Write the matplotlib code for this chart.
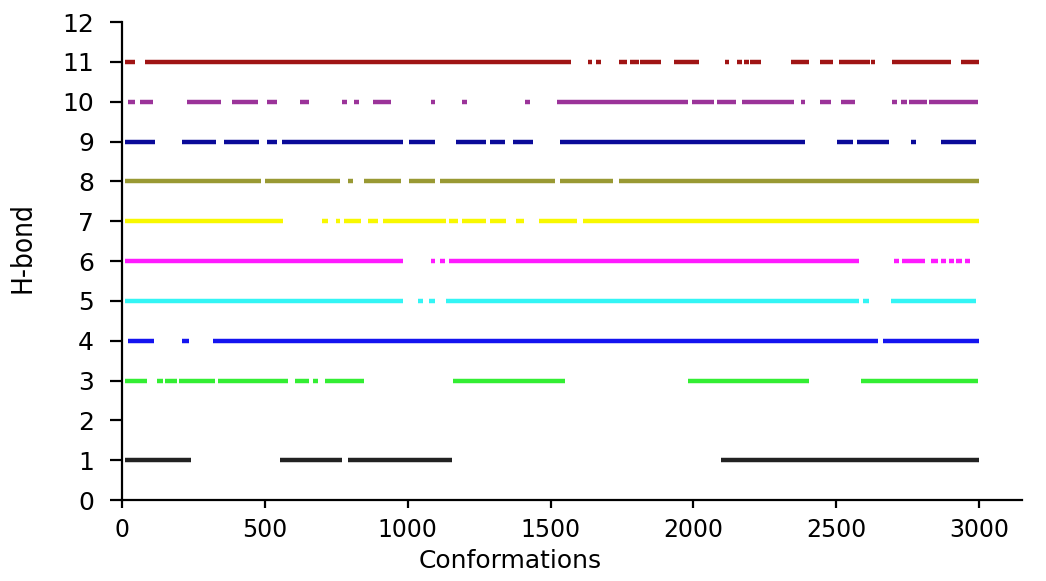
import matplotlib
matplotlib.use("Agg")
import matplotlib.pyplot as plt

# H-bond occupancy: (start, end) conformation ranges where each bond is present
hb1 = [(10, 240), (552, 771), (791, 1155), (2098, 3000)]
hb3 = [(10, 86), (124, 142), (150, 191), (199, 325), (336, 581), (604, 653),
       (669, 686), (711, 847), (1160, 1550), (1981, 2406), (2587, 2995)]
hb4 = [(22, 113), (209, 235), (319, 2646), (2663, 3000)]
hb5 = [(10, 985), (1035, 1052), (1076, 1096), (1134, 2579), (2592, 2614),
       (2691, 2990)]
hb6 = [(10, 985), (1080, 1094), (1113, 1131), (1146, 2579), (2701, 2718),
       (2730, 2811), (2832, 2855), (2867, 2884), (2893, 2911), (2920, 2940),
       (2949, 2969)]
hb7 = [(10, 564), (701, 721), (748, 762), (777, 835), (861, 896), (915, 1134),
       (1146, 1175), (1190, 1274), (1289, 1344), (1379, 1408), (1458, 1594),
       (1612, 3000)]
hb8 = [(10, 488), (502, 762), (791, 808), (847, 977), (1004, 1097),
       (1113, 1516), (1534, 1717), (1740, 3000)]
hb9 = [(10, 115), (209, 328), (356, 479), (506, 544), (560, 985), (1004, 1097),
       (1169, 1274), (1289, 1342), (1367, 1440), (1534, 2390), (2502, 2558),
       (2573, 2683), (2762, 2780), (2867, 2990)]
hb10 = [(20, 45), (63, 109), (226, 348), (385, 476), (506, 544), (622, 655),
        (771, 787), (812, 831), (880, 942), (1080, 1096), (1190, 1208),
        (1412, 1429), (1522, 1982), (1996, 2072), (2084, 2148), (2171, 2351),
        (2377, 2392), (2443, 2480), (2515, 2564), (2695, 2712), (2726, 2747),
        (2755, 2817), (2823, 2963), (2965, 2995)]
hb11 = [(10, 45), (80, 1571), (1632, 1646), (1660, 1677), (1740, 1769),
        (1777, 1810), (1812, 1885), (1932, 2019), (2109, 2126), (2153, 2171),
        (2177, 2194), (2198, 2215), (2217, 2238), (2342, 2375), (2377, 2406),
        (2443, 2488), (2509, 2619), (2621, 2637), (2695, 2902), (2937, 3000)]

levels = [1, 3, 4, 5, 6, 7, 8, 9, 10, 11]
segments = [hb1, hb3, hb4, hb5, hb6, hb7, hb8, hb9, hb10, hb11]
colors = ["#222222", "#33ee33", "#1414f0", "#33f5f5", "#ff1aff", "#f8f800",
          "#999933", "#0a0a99", "#9b3399", "#a01414"]

x_ticks = [0, 500, 1000, 1500, 2000, 2500, 3000]
y_ticks = list(range(0, 13))

fig = plt.figure(figsize=(10.46, 5.81), dpi=100)
ax = fig.add_axes([0.1166, 0.1394, 0.8604, 0.8227])

for lev, segs, col in zip(levels, segments, colors):
    starts = [s for s, e in segs]
    ends = [e for s, e in segs]
    ax.hlines([lev] * len(segs), starts, ends, colors=col, linewidth=3.2,
              capstyle="butt")

ax.set_xlim(0, 3150)
ax.set_ylim(0, 12)
ax.set_xticks(x_ticks)
ax.set_yticks(y_ticks)

for side in ["top", "right"]:
    ax.spines[side].set_visible(False)
for side in ["left", "bottom"]:
    ax.spines[side].set_linewidth(1.6)

ax.tick_params(axis="x", direction="out", length=6, width=1.6, pad=7,
               labelsize=17)
ax.tick_params(axis="y", direction="out", length=9, width=1.6, pad=11,
               labelsize=18)

ax.set_xlabel("Conformations", fontsize=18)
ax.xaxis.set_label_coords(0.431, -0.128)
ax.xaxis.label.set_verticalalignment("center")
ax.set_ylabel("H-bond", fontsize=20, family="DejaVu Sans",
              fontstretch="condensed")
ax.yaxis.set_label_coords(-0.110, 0.529)
ax.yaxis.label.set_verticalalignment("center")

plt.savefig("out.png", dpi=100)
